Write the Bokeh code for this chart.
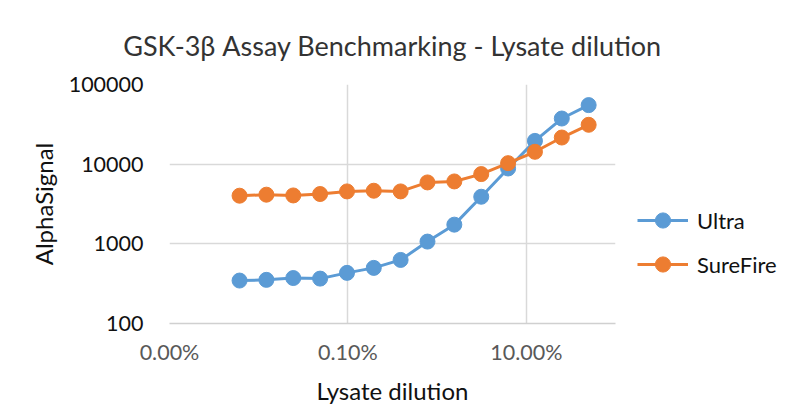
from bokeh.plotting import figure
from bokeh.models import FixedTicker, Legend, LegendItem, ColumnDataSource
from bokeh.embed import file_html
from bokeh.resources import INLINE

dilution = [0.000061, 0.000122, 0.000244, 0.000488, 0.000977, 0.00195, 0.0039,
            0.0078, 0.0156, 0.03125, 0.0625, 0.125, 0.25, 0.5]
ultra = [346, 353, 372, 366, 432, 499, 628, 1067, 1741, 3900, 8830, 19600, 37400, 55100]
surefire = [4020, 4140, 4050, 4220, 4550, 4640, 4550, 5900, 6070, 7510, 10300, 14300, 21600, 31200]
x_ticks = [1e-5, 1e-3, 1e-1]
x_tick_labels = ["0.00%", "0.10%", "10.00%"]
y_ticks = [100, 1000, 10000, 100000]
y_tick_labels = ["100", "1000", "10000", "100000"]

FONT = "Lato"
BLUE = "#5B9BD5"
ORANGE = "#ED7D31"

p = figure(frame_width=446, frame_height=239, x_axis_type="log", y_axis_type="log",
           x_range=(1e-5, 1), y_range=(100, 100000),
           output_backend="svg", toolbar_location=None,
           min_border_left=169, min_border_right=179, min_border_top=84, min_border_bottom=84)

p.title.text = "GSK-3\u03b2 Assay Benchmarking - Lysate dilution"
p.title.text_font = FONT
p.title.text_font_size = "27px"
p.title.text_font_style = "normal"
p.title.text_color = "#333333"
p.title.align = "center"
p.title.offset = 0
p.title.standoff = 46

p.outline_line_color = None
p.background_fill_color = "white"
p.border_fill_color = "white"

src = ColumnDataSource(dict(x=dilution, u=ultra, s=surefire))
lu = p.line("x", "u", source=src, line_color=BLUE, line_width=3)
cu = p.scatter("x", "u", source=src, size=15, fill_color=BLUE, line_color=BLUE)
ls = p.line("x", "s", source=src, line_color=ORANGE, line_width=3)
cs = p.scatter("x", "s", source=src, size=15, fill_color=ORANGE, line_color=ORANGE)

xa = p.xaxis[0]
xa.ticker = FixedTicker(ticks=x_ticks, minor_ticks=[])
xa.major_label_overrides = {t: l for t, l in zip(x_ticks, x_tick_labels)}
xa.axis_line_color = "#D0D0D0"
xa.axis_line_width = 1.5
xa.major_tick_line_color = None
xa.minor_tick_line_color = None
xa.major_label_text_font = FONT
xa.major_label_text_font_size = "21.5px"
xa.major_label_text_color = "#595959"
xa.major_label_standoff = 9
xa.axis_label = "Lysate dilution"
xa.axis_label_text_font = FONT
xa.axis_label_text_font_size = "24px"
xa.axis_label_text_font_style = "normal"
xa.axis_label_text_color = "#111111"
xa.axis_label_standoff = 8

ya = p.yaxis[0]
ya.ticker = FixedTicker(ticks=y_ticks, minor_ticks=[])
ya.major_label_overrides = {t: l for t, l in zip(y_ticks, y_tick_labels)}
ya.axis_line_color = None
ya.major_tick_line_color = None
ya.minor_tick_line_color = None
ya.major_label_text_font = FONT
ya.major_label_text_font_size = "21.5px"
ya.major_label_text_color = "#111111"
ya.major_label_standoff = 20
ya.axis_label = "AlphaSignal"
ya.axis_label_text_font = FONT
ya.axis_label_text_font_size = "24px"
ya.axis_label_text_font_style = "normal"
ya.axis_label_text_color = "#111111"
ya.axis_label_standoff = 8

for g in (p.xgrid[0], p.ygrid[0]):
    g.grid_line_color = "#D9D9D9"
    g.grid_line_width = 1.5
p.xgrid[0].ticker = xa.ticker
p.ygrid[0].ticker = ya.ticker

legend = Legend(items=[LegendItem(label="Ultra", renderers=[lu, cu]),
                       LegendItem(label="SureFire", renderers=[ls, cs])],
                location=(22, 40), orientation="vertical",
                glyph_width=51, glyph_height=38, spacing=6, padding=0, margin=0,
                label_standoff=9, label_text_font=FONT, label_text_font_size="22px",
                label_text_color="#111111", border_line_color=None,
                background_fill_alpha=0)
p.add_layout(legend, "right")

open("out.html", "w").write(file_html(p, INLINE))
